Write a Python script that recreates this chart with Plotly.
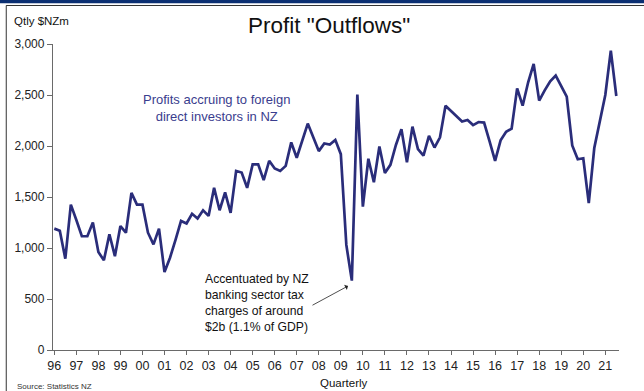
import plotly.graph_objects as go

# Quarterly profits accruing to foreign direct investors in NZ ($NZm), 1996Q1-2021Q3
quarters = [f"{y}Q{q}" for y in range(1996, 2022) for q in range(1, 5)][:103]
profits = [
    1190, 1170, 895, 1425, 1275, 1115, 1115, 1250,   # 1996-97
    960, 880, 1135, 920, 1215, 1150, 1540, 1425,     # 1998-99
    1425, 1150, 1035, 1190, 765, 905, 1080, 1265,    # 2000-01
    1240, 1335, 1290, 1370, 1315, 1590, 1370, 1545,  # 2002-03
    1345, 1755, 1740, 1590, 1820, 1820, 1665, 1855,  # 2004-05
    1780, 1755, 1805, 2035, 1885, 2055, 2220, 2085,  # 2006-07
    1950, 2025, 2015, 2060, 1920, 1030, 680, 2505,   # 2008-09
    1405, 1875, 1645, 1995, 1735, 1815, 2010, 2165,  # 2010-11
    1840, 2190, 1970, 1905, 2100, 1985, 2085, 2395,  # 2012-13
    2345, 2300, 2240, 2255, 2205, 2235, 2230, 2045,  # 2014-15
    1855, 2055, 2140, 2170, 2565, 2395, 2625, 2805,  # 2016-17
    2445, 2545, 2635, 2690, 2590, 2485, 2005, 1870,  # 2018-19
    1880, 1440, 1980, 2240, 2500, 2935, 2490,        # 2020-21Q3
]
tick_years = list(range(1996, 2022))
tick_labels = ["96", "97", "98", "99", "00", "01", "02", "03", "04", "05", "06",
               "07", "08", "09", "10", "11", "12", "13", "14", "15", "16", "17",
               "18", "19", "20", "21"]
y_ticks = [0, 500, 1000, 1500, 2000, 2500, 3000]

# numeric time position for each quarter
xpos = [int(q[:4]) + (int(q[-1]) - 1) / 4 for q in quarters]

W, H = 644, 391
L, R, T, B = 53, 619, 44, 350  # plot-area pixel box

def px(x):
    return (x - L) / (R - L)

def py(y):
    return (B - y) / (B - T)

FONT = "Arial, Liberation Sans, sans-serif"
NAVY = "#2a2d7a"

fig = go.Figure()
fig.add_trace(go.Scatter(
    x=xpos, y=profits, mode="lines",
    line=dict(color=NAVY, width=2.7),
    hoverinfo="skip", showlegend=False,
))

x0 = 1996 - (54.3 - L) / 22.04
x1 = 1996 + (R - 54.3) / 22.04

fig.update_layout(
    width=W, height=H,
    margin=dict(l=L, r=W - R, t=T, b=H - B, pad=0),
    paper_bgcolor="white", plot_bgcolor="white",
    font=dict(family=FONT, size=12, color="#222222"),
    xaxis=dict(
        range=[x0, x1], tickmode="array", tickvals=tick_years, ticktext=tick_labels,
        showgrid=False, zeroline=False, showline=True, linecolor="#6a6a6a", linewidth=1.3,
        ticks="outside", ticklen=4, tickcolor="#6a6a6a", tickwidth=1.2,
        tickfont=dict(size=12.5, color="#222222", family=FONT),
    ),
    yaxis=dict(
        range=[0, 3000], tickmode="array", tickvals=y_ticks,
        ticktext=[f"{v:,}" for v in y_ticks],
        showgrid=False, zeroline=False, showline=True, linecolor="#6a6a6a", linewidth=1.3,
        ticks="outside", ticklen=5, tickcolor="#6a6a6a", tickwidth=1.2,
        tickfont=dict(size=12, color="#222222", family=FONT),
    ),
)

shapes = [
    # top navy band
    dict(type="rect", xref="paper", yref="paper", x0=px(0), x1=px(W), y0=py(0), y1=py(3.2),
         fillcolor="#0b2f72", line=dict(width=0)),
    # frame lines
    dict(type="line", xref="paper", yref="paper", x0=px(6), x1=px(W), y0=py(5.5), y1=py(5.5),
         line=dict(color="#333333", width=1.2)),
    dict(type="line", xref="paper", yref="paper", x0=px(6.3), x1=px(6.3), y0=py(5.5), y1=py(H),
         line=dict(color="#555555", width=1.2)),
]
fig.update_layout(shapes=shapes)

anns = [
    dict(text="Qtly $NZm", x=px(12), y=py(21), xanchor="left", yanchor="middle",
         font=dict(size=11.5, color="#111111")),
    dict(text='Profit "Outflows"', x=px(329), y=py(26), xanchor="center", yanchor="middle",
         font=dict(size=22.5, color="#111111")),
    dict(text="Profits accruing to foreign<br>direct investors in NZ", x=px(216), y=py(108),
         xanchor="center", yanchor="middle", align="center",
         font=dict(size=13, color="#3a3d8e")),
    dict(text="Accentuated by NZ<br>banking sector tax<br>charges of around<br>$2b (1.1% of GDP)",
         x=px(203), y=py(303), xanchor="left", yanchor="middle", align="left",
         font=dict(size=12.2, color="#111111")),
    dict(text="Source: Statistics NZ", x=px(15), y=py(380), xanchor="left", yanchor="top",
         font=dict(size=8, color="#333333")),
    dict(text="Quarterly", x=px(344), y=py(375), xanchor="center", yanchor="top",
         font=dict(size=11.5, color="#111111")),
    # arrow pointing at the 2009 dip
    dict(text="", x=px(348), y=py(286), ax=-37, ay=20, axref="pixel", ayref="pixel",
         showarrow=True, arrowhead=1, arrowsize=1.2, arrowwidth=0.8, arrowcolor="#222222",
         standoff=0, startstandoff=0),
]
for a in anns:
    a.setdefault("xref", "paper")
    a.setdefault("yref", "paper")
    a.setdefault("showarrow", False)
fig.update_layout(annotations=anns)

fig.write_html("out.html")
